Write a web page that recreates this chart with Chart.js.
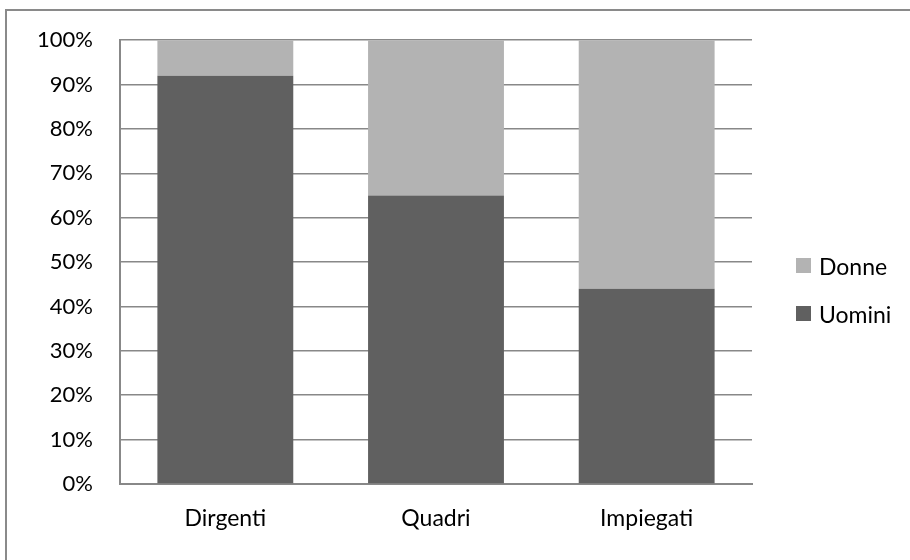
<!DOCTYPE html>
<html>
<head>
<meta charset="utf-8">
<script src="https://cdn.jsdelivr.net/npm/chart.js@4.4.0/dist/chart.umd.min.js"></script>
<style>
  body { margin: 0; background: #fff; overflow: hidden; }
  #wrap { position: relative; width: 910px; height: 560px; }
  #frame {
    position: absolute; left: 5px; top: 9px; width: 920px; height: 570px;
    border-top: 2px solid #8a8a8a; border-left: 2px solid #8a8a8a;
  }
  #legend { position: absolute; left: 796px; top: 252px; font: 23px Lato, sans-serif; color: #000; }
  .item { display: flex; align-items: center; height: 27px; margin-bottom: 21px; }
  .box { width: 15px; height: 15px; margin-right: 8px; }
</style>
</head>
<body>
<div id="wrap">
  <div id="frame"></div>
  <canvas id="chart"></canvas>
  <div id="legend"></div>
</div>
<script>
const labels = ['Dirgenti', 'Quadri', 'Impiegati'];
const uomini = [92, 65, 44];
const donne = [8, 35, 56];
const yTicks = [0, 10, 20, 30, 40, 50, 60, 70, 80, 90, 100];

const data = {
  labels: labels,
  datasets: [{
    label: 'Uomini',
    backgroundColor: '#606060',
    data: uomini,
  }, {
    label: 'Donne',
    backgroundColor: '#b3b3b3',
    data: donne,
  }]
};

const tickFont = { family: 'Lato', size: 22 };

const config = {
  type: 'bar',
  data: data,
  options: {
    responsive: true,
    maintainAspectRatio: false,
    animation: false,
    layout: { padding: { top: 39, right: 158, left: 0, bottom: 0 } },
    plugins: { legend: { display: false }, tooltip: { enabled: false } },
    datasets: { bar: { barPercentage: 0.645, categoryPercentage: 1 } },
    scales: {
      x: {
        stacked: true,
        grid: { display: false, drawTicks: false },
        border: { display: true, color: '#888888', width: 2 },
        ticks: { color: '#000', font: { family: 'Lato', size: 23 }, padding: 21 },
        afterFit: function (scale) { scale.height = 76; }
      },
      y: {
        stacked: true,
        min: 0,
        max: 100,
        grid: { color: '#888888', lineWidth: 1.5, drawTicks: false },
        border: { display: true, color: '#888888', width: 2 },
        afterBuildTicks: function (scale) {
          scale.ticks = yTicks.map(v => ({ value: v }));
        },
        ticks: {
          color: '#000',
          font: tickFont,
          padding: 27,
          callback: v => v + '%'
        },
        afterFit: function (scale) { scale.width = 120; }
      }
    }
  }
};

const chart = new Chart(document.getElementById('chart'), config);

// legend, top item is the top of the stack
const legend = document.getElementById('legend');
data.datasets.slice().reverse().forEach(ds => {
  const item = document.createElement('div');
  item.className = 'item';
  item.innerHTML = '<span class="box" style="background:' + ds.backgroundColor + '"></span><span>' + ds.label + '</span>';
  legend.appendChild(item);
});
</script>
</body>
</html>
